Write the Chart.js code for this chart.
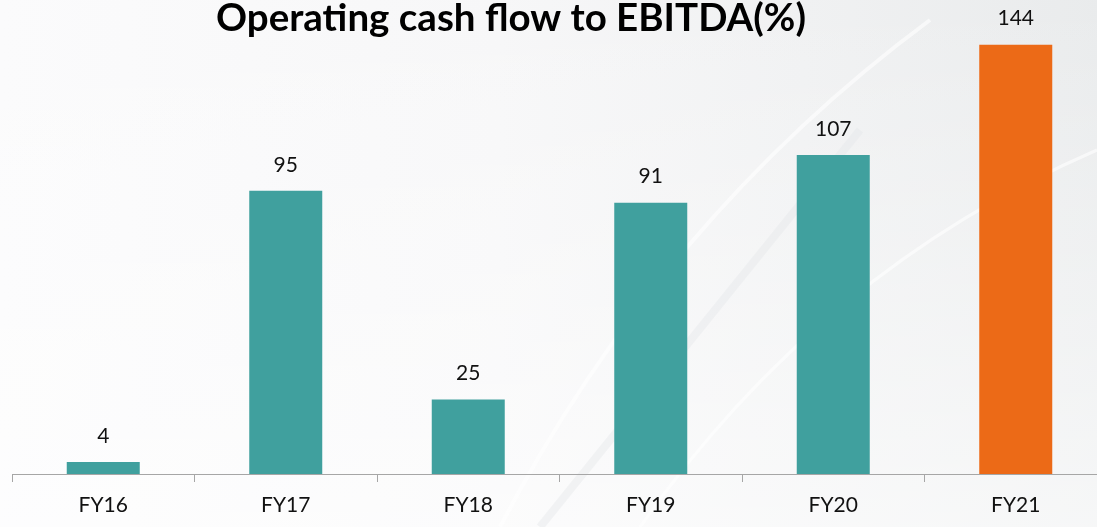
<!DOCTYPE html>
<html><head><meta charset="utf-8">
<script src="https://cdn.jsdelivr.net/npm/chart.js@4/dist/chart.umd.min.js"></script>
<style>
html,body{margin:0;padding:0;overflow:hidden;background:#fff;}
#wrap{position:absolute;left:0;top:0;width:1107px;height:527px;}
</style></head>
<body><div id="wrap"><canvas id="c" width="1107" height="527"></canvas></div>
<script>
const categories = ["FY16","FY17","FY18","FY19","FY20","FY21"];
const values = [4, 95, 25, 91, 107, 144];
const barColors = ["#40A09E","#40A09E","#40A09E","#40A09E","#40A09E","#EC6A17"];
const titleText = "Operating cash flow to EBITDA(%)";

const bgPlugin = {
  id:'bg',
  beforeDraw(chart){
    const ctx = chart.ctx, w = chart.width, h = chart.height;
    ctx.save();
    const g = ctx.createLinearGradient(0,0,w,0);
    g.addColorStop(0,'#fbfbfc'); g.addColorStop(0.45,'#f7f7f8'); g.addColorStop(1,'#e9ebec');
    ctx.fillStyle = g; ctx.fillRect(0,0,w,h);
    const g2 = ctx.createLinearGradient(0,0,0,h);
    g2.addColorStop(0,'rgba(255,255,255,0)'); g2.addColorStop(1,'rgba(255,255,255,0.6)');
    ctx.fillStyle = g2; ctx.fillRect(0,0,w,h);
    ctx.strokeStyle = 'rgba(255,255,255,0.6)';
    ctx.lineWidth = 4;
    ctx.beginPath(); ctx.moveTo(930,20); ctx.quadraticCurveTo(660,220,500,527); ctx.stroke();
    ctx.lineWidth = 3;
    ctx.beginPath(); ctx.moveTo(1097,150); ctx.quadraticCurveTo(820,270,640,527); ctx.stroke();
    ctx.strokeStyle = 'rgba(228,230,232,0.4)'; ctx.lineWidth = 8;
    ctx.beginPath(); ctx.moveTo(860,130); ctx.lineTo(540,527); ctx.stroke();
    ctx.restore();
  }
};

const labelPlugin = {
  id:'labels',
  afterDatasetsDraw(chart){
    const ctx = chart.ctx;
    const meta = chart.getDatasetMeta(0);
    ctx.save();
    ctx.fillStyle = '#111';
    ctx.font = '21px Lato';
    ctx.textAlign = 'center'; ctx.textBaseline = 'middle';
    meta.data.forEach((bar,i)=>{
      ctx.fillText(String(values[i]), bar.x, bar.y - 26);
    });
    let size = 30;
    ctx.font = 'bold '+size+'px Lato';
    const w = ctx.measureText(titleText).width;
    size = size * 590 / w;
    ctx.font = 'bold '+size.toFixed(1)+'px Lato';
    ctx.fillStyle = '#000';
    ctx.fillText(titleText, 511, 19);
    ctx.restore();
  }
};

new Chart(document.getElementById('c'), {
  type:'bar',
  data:{labels:categories, datasets:[{data:values, backgroundColor:barColors, borderWidth:0,
    categoryPercentage:1.0, barPercentage:0.4}]},
  options:{
    responsive:false, animation:false,
    layout:{padding:{left:12,right:0,top:0,bottom:0}},
    plugins:{legend:{display:false}, title:{display:false}, tooltip:{enabled:false}},
    scales:{
      x:{
        offset:true,
        grid:{display:true, drawOnChartArea:false, drawTicks:true, tickLength:8, color:'#a6a6a6', offset:true},
        border:{display:true, color:'#a6a6a6', width:1},
        ticks:{color:'#111', font:{family:'Lato', size:21}, padding:11},
        afterFit(s){ s.height = 53; }
      },
      y:{display:false, min:0, max:159}
    }
  },
  plugins:[bgPlugin, labelPlugin]
});
</script></body></html>
